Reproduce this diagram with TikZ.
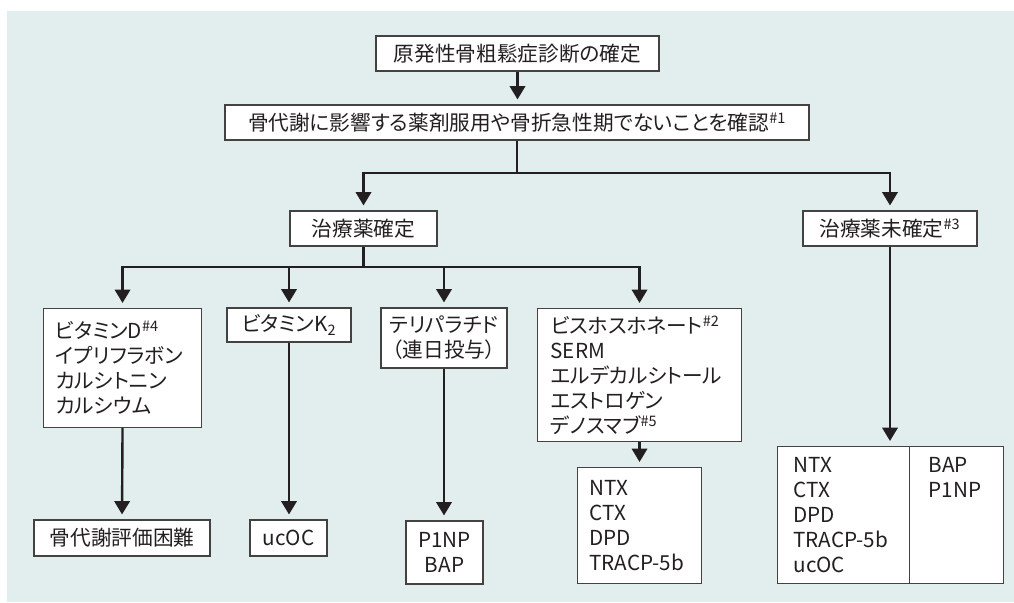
\documentclass[tikz,border=0pt]{standalone}
\usepackage{fontspec}
\setmainfont{Noto Sans CJK JP}[RawFeature=+palt]
\usetikzlibrary{arrows.meta}
\definecolor{bg}{RGB}{226,238,238}
\definecolor{ink}{RGB}{35,31,32}
\newcommand{\hsup}[1]{\textsuperscript{#1}}
\begin{document}
\begin{tikzpicture}[x=0.75pt,y=-0.75pt,
  font=\fontsize{15.5}{18.75}\selectfont,
  box/.style={draw=ink!85, line width=0.8pt, fill=white, inner sep=0pt, text=ink},
  cbox/.style={box, align=center},
  lbox/.style={box, align=left, anchor=north west},
  conn/.style={draw=ink, line width=1.8pt, line join=miter},
  arr/.style={conn, -{Triangle[width=11.5pt,length=10pt]}, shorten >=3.75pt}]
\useasboundingbox (0,0) rectangle (1014,603);
\fill[bg] (7,11) rectangle (1014,602);
% level 1-2
\node[cbox, minimum width=212.25pt, minimum height=26.25pt] (B1) at (517.5,53.5) {原発性骨粗鬆症診断の確定};
\node[cbox, minimum width=438pt, minimum height=26.25pt] (B2) at (517,122.5) {骨代謝に影響する薬剤服用や骨折急性期でないことを確認\hsup{\#1}};
% level 3
\node[cbox, minimum width=110.25pt, minimum height=26.25pt] (B3) at (363.5,228.5) {治療薬確定};
\node[cbox, minimum width=130.5pt, minimum height=26.25pt] (B4) at (890,228.5) {治療薬未確定\hsup{\#3}};
% level 4
\node[lbox, inner xsep=9pt, text width=100.5pt, minimum height=89.25pt] (B5) at (43,308) {ビタミンD\hsup{\#4}\\イプリフラボン\\カルシトニン\\カルシウム};
\node[cbox, minimum width=93pt, minimum height=25.5pt] (B6) at (289,325) {ビタミンK\textsubscript{2}};
\node[cbox, minimum width=94.5pt, minimum height=45pt] (B7) at (444,338) {テリパラチド\\（連日投与）};
\node[lbox, inner xsep=9.75pt, text width=133.5pt, minimum height=99.75pt] (B8) at (537,308) {ビスホスホネート\hsup{\#2}\\SERM\\エルデカルシトール\\エストロゲン\\デノスマブ\hsup{\#5}};
% level 5
\node[cbox, minimum width=132pt, minimum height=27pt] (B9) at (122,538) {骨代謝評価困難};
\node[cbox, minimum width=57.75pt, minimum height=27pt] (B10) at (288.5,538) {ucOC};
\node[cbox, minimum width=57.75pt, minimum height=47.25pt] (B11) at (444.5,552.5) {P1NP\\BAP};
\node[lbox, inner xsep=9pt, text width=75pt, minimum height=87pt] (B12) at (577,467) {NTX\\CTX\\DPD\\\mbox{TRACP-5b}};
\node[lbox, inner xsep=12pt, text width=75pt, minimum height=102.75pt] (B13a) at (777,446) {NTX\\CTX\\DPD\\\mbox{TRACP-5b}\\ucOC};
\node[lbox, inner xsep=14.25pt, text width=42pt, minimum height=102.75pt] (B13b) at (909,446) {BAP\\P1NP\\\mbox{}\\\mbox{}\\\mbox{}};
% connectors
\draw[arr] (B1.south) -- (B1.south |- B2.north);
\coordinate (j1) at (517,173);
\draw[conn] (B2.south) -- (j1);
\draw[arr] (j1) -| (B3.north);
\draw[arr] (j1) -| (B4.north);
\coordinate (j2) at (363.5,267);
\draw[conn] (B3.south) -- (j2);
\draw[arr] (j2) -| (B5.north);
\draw[arr] (j2) -| (B6.north);
\draw[arr] (j2) -| (B7.north);
\draw[arr] (j2) -| (B8.north);
\draw[arr] (B5.south) -- (B9.north);
\draw[arr] (B6.south) -- (B6.south |- B10.north);
\draw[arr] (B7.south) -- (B7.south |- B11.north);
\draw[arr] (B8.south) -- (B8.south |- B12.north);
\draw[arr] (B4.south) -- (B4.south |- B13a.north);
\end{tikzpicture}
\end{document}
